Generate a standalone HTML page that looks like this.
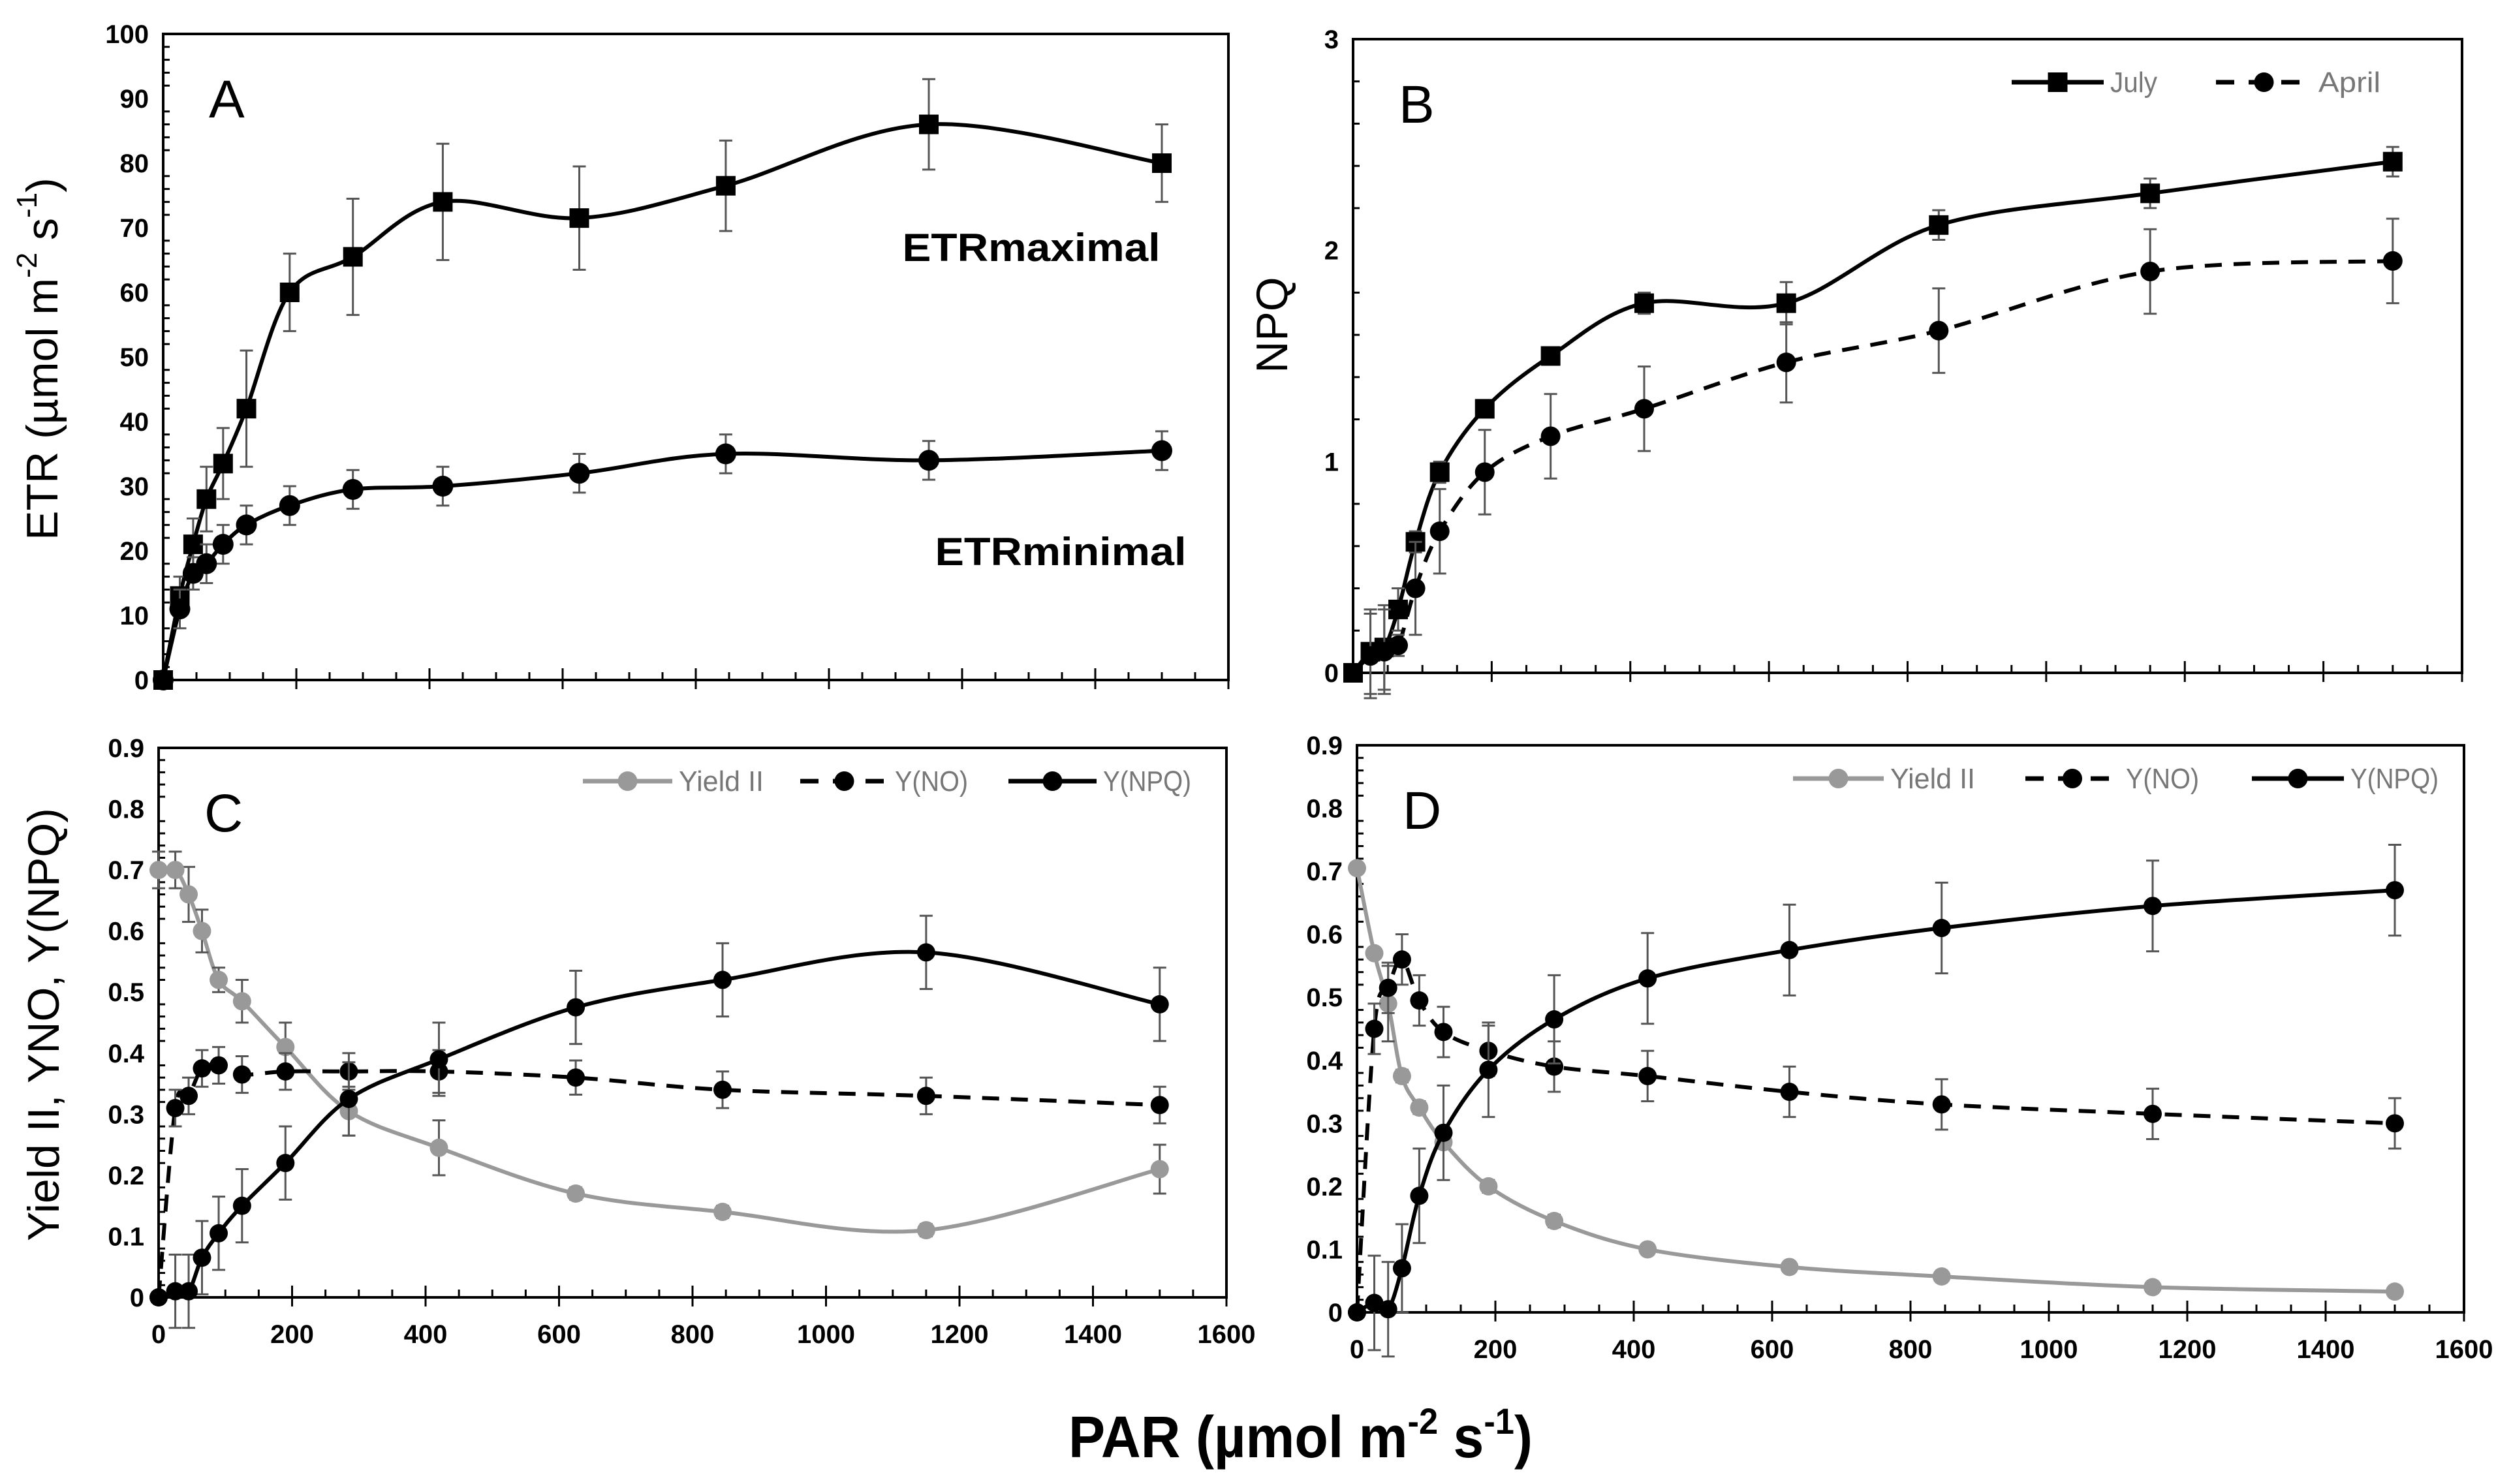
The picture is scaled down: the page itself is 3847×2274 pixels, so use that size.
<!DOCTYPE html>
<html><head><meta charset="utf-8"><style>
html,body{margin:0;padding:0;background:#fff}
svg{display:block}
text{font-family:"Liberation Sans",sans-serif}
</style></head><body>
<svg id="chart" width="3847" height="2274" viewBox="0 0 3847 2274" xmlns="http://www.w3.org/2000/svg">
  <text x="70" y="550" transform="rotate(-90 70 550)" text-anchor="middle" dominant-baseline="middle" font-family="Liberation Sans, sans-serif" font-size="68">ETR (µmol m<tspan font-size="44" dy="-26">-2</tspan><tspan dy="26"> s</tspan><tspan font-size="44" dy="-26">-1</tspan><tspan dy="26">)</tspan></text>
  <text x="1954" y="498" transform="rotate(-90 1954 498)" text-anchor="middle" dominant-baseline="middle" font-family="Liberation Sans, sans-serif" font-size="68">NPQ</text>
  <text x="72" y="1570" transform="rotate(-90 72 1570)" text-anchor="middle" dominant-baseline="middle" font-family="Liberation Sans, sans-serif" font-size="68">Yield II, YNO, Y(NPQ)</text>
  <text x="1580" y="400" text-anchor="middle" textLength="395" lengthAdjust="spacingAndGlyphs" font-family="Liberation Sans, sans-serif" font-weight="bold" font-size="60">ETRmaximal</text>
  <text x="1625" y="866" text-anchor="middle" textLength="385" lengthAdjust="spacingAndGlyphs" font-family="Liberation Sans, sans-serif" font-weight="bold" font-size="60">ETRminimal</text>
  <text x="1637" y="2233" textLength="711" lengthAdjust="spacingAndGlyphs" font-family="Liberation Sans, sans-serif" font-weight="bold" font-size="90">PAR (µmol m<tspan font-size="56" dy="-36">-2</tspan><tspan dy="36"> s</tspan><tspan font-size="56" dy="-36">-1</tspan><tspan dy="36">)</tspan></text>
</svg>
<script>
const par = [0,25,45,65,90,125,190,285,420,625,845,1150,1500];
const etrMax = [0,13,21,28,33.5,42,60,65.5,74,71.5,76.5,86,80];
const etrMaxErr = [0,3,4,5,5.5,9,6,9,9,8,7,7,6];
const etrMin = [0,11,16.5,18,21,24,27,29.5,30,32,35,34,35.5];
const etrMinErr = [0,3,2.5,3,3,3,3,3,3,3,3,3,3];
const npqJuly = [0,0.1,0.12,0.3,0.62,0.95,1.25,1.5,1.75,1.75,2.12,2.27,2.42];
const npqJulyErr = [0,0.2,0.2,0.1,0.05,0.05,0.03,0.03,0.05,0.1,0.07,0.07,0.07];
const npqApril = [0,0.08,0.1,0.13,0.4,0.67,0.95,1.12,1.25,1.47,1.62,1.9,1.95];
const npqAprilErr = [0,0.2,0.2,0.05,0.22,0.2,0.2,0.2,0.2,0.19,0.2,0.2,0.2];
const cYield = [0.70,0.70,0.66,0.60,0.52,0.485,0.41,0.305,0.245,0.17,0.14,0.11,0.21];
const cYieldErr = [0.03,0.03,0.045,0.035,0.02,0.035,0.04,0.04,0.045,0.01,0.01,0.01,0.04];
const cYno = [0,0.31,0.33,0.375,0.38,0.365,0.37,0.37,0.37,0.36,0.34,0.33,0.315];
const cYnoErr = [0,0.03,0.03,0.03,0.03,0.03,0.03,0.03,0.035,0.028,0.03,0.03,0.03];
const cYnpq = [0,0.01,0.01,0.065,0.105,0.15,0.22,0.325,0.39,0.475,0.52,0.565,0.48];
const cYnpqErr = [0,0.06,0.06,0.06,0.06,0.06,0.06,0.06,0.06,0.06,0.06,0.06,0.06];
const dYield = [0.705,0.57,0.49,0.375,0.325,0.27,0.2,0.145,0.1,0.072,0.057,0.04,0.033];
const dYieldErr = [0,0,0.06,0.01,0.01,0.01,0.01,0.01,0.008,0.008,0.008,0.008,0.008];
const dYno = [0,0.45,0.515,0.56,0.495,0.445,0.415,0.39,0.375,0.35,0.33,0.315,0.3];
const dYnoErr = [0,0.04,0.04,0.04,0.04,0.04,0.04,0.04,0.04,0.04,0.04,0.04,0.04];
const dYnpq = [0,0.015,0.005,0.07,0.185,0.285,0.385,0.465,0.53,0.575,0.61,0.645,0.67];
const dYnpqErr = [0,0.075,0.075,0.07,0.075,0.075,0.075,0.07,0.072,0.072,0.072,0.072,0.072];
const xTicks = [0,200,400,600,800,1000,1200,1400,1600];
const aTicks = [0,10,20,30,40,50,60,70,80,90,100];
const bTicks = [0,1,2,3];
const cdTicks = [0,0.1,0.2,0.3,0.4,0.5,0.6,0.7,0.8,0.9];

const NS='http://www.w3.org/2000/svg';
const svg=document.getElementById('chart');
function mk(tag,attrs,parent){const e=document.createElementNS(NS,tag);for(const k in attrs)e.setAttribute(k,attrs[k]);(parent||svg).appendChild(e);return e;}

function smoothPath(pts){
  let d='M'+pts[0][0]+','+pts[0][1];
  for(let i=0;i<pts.length-1;i++){
    const p0=pts[Math.max(0,i-1)],p1=pts[i],p2=pts[i+1],p3=pts[Math.min(pts.length-1,i+2)];
    const t=1/6;
    const c1=[p1[0]+(p2[0]-p0[0])*t,p1[1]+(p2[1]-p0[1])*t];
    const c2=[p2[0]-(p3[0]-p1[0])*t,p2[1]-(p3[1]-p1[1])*t];
    d+=' C'+c1[0]+','+c1[1]+' '+c2[0]+','+c2[1]+' '+p2[0]+','+p2[1];
  }
  return d;
}

function panel(cfg){
  const g=mk('g',{});
  
  
  const X=v=>cfg.x0+(v/1600)*(cfg.x1-cfg.x0);
  const Y=v=>cfg.y0-(v/cfg.ymax)*(cfg.y0-cfg.y1);
  const fr=mk('rect',{x:cfg.x0,y:cfg.y1,width:cfg.x1-cfg.x0,height:cfg.y0-cfg.y1,fill:'none',stroke:'#000','stroke-width':4},g);
  
  
  for(let v=50;v<=1600;v+=50){
    const major=v%200===0;
    mk('line',{x1:X(v),x2:X(v),y1:cfg.y0-(major?18:12),y2:cfg.y0+(major?14:0),stroke:'#000','stroke-width':3},g);
  }
  const nMinor=cfg.minor;
  for(let i=0;i<cfg.ticks.length-1;i++){
    const a=cfg.ticks[i],b=cfg.ticks[i+1];
    for(let k=1;k<nMinor;k++){const v=a+(b-a)*k/nMinor;mk('line',{x1:cfg.x0,x2:cfg.x0+10,y1:Y(v),y2:Y(v),stroke:'#000','stroke-width':3},g);}
  }
  cfg.ticks.forEach(v=>{
    const t=mk('text',{x:cfg.x0-22,y:Y(v)+14,'text-anchor':'end','font-size':40,'font-weight':'bold'},g);
    t.textContent=v;
    
    
  });
  if(cfg.xlabels){
    xTicks.forEach(v=>{
      const t=mk('text',{x:X(v),y:cfg.y0+70,'text-anchor':'middle','font-size':40,'font-weight':'bold'},g);
      t.textContent=v;
      
      
    });
  }
  const L=mk('text',{x:cfg.x0+70,y:cfg.y1+128,'font-size':82},g);
  L.textContent=cfg.letter;
  
  
  cfg.series.forEach(s=>{
    const sg=mk('g',{},g);
    
    
    const pts=par.map((p,i)=>[X(p),Y(s.vals[i])]);
    const ln=mk('path',{d:smoothPath(pts),fill:'none',stroke:s.color,'stroke-width':6},sg);
    if(s.dash)ln.setAttribute('stroke-dasharray','26,18');
    
    
    par.forEach((p,i)=>{
      const e=s.err[i];
      if(e>0){
        const x=X(p),ya=Y(s.vals[i]+e),yb=Y(s.vals[i]-e);
        mk('line',{x1:x,x2:x,y1:ya,y2:yb,stroke:'#555','stroke-width':3},sg);
        mk('line',{x1:x-10,x2:x+10,y1:ya,y2:ya,stroke:'#555','stroke-width':3},sg);
        mk('line',{x1:x-10,x2:x+10,y1:yb,y2:yb,stroke:'#555','stroke-width':3},sg);
      }
    });
    par.forEach((p,i)=>{
      let m;
      if(s.marker==='sq') m=mk('rect',{x:X(p)-15,y:Y(s.vals[i])-15,width:30,height:30,fill:s.color},sg);
      else m=mk('circle',{cx:X(p),cy:Y(s.vals[i]),r:s.r||15,fill:s.color},sg);
      
      
    });
  });
  (cfg.legend||[]).forEach(l=>{
    const lg=mk('g',{},g);
    
    
    const ln=mk('line',{x1:l.x1,x2:l.x2,y1:cfg.legY,y2:cfg.legY,stroke:l.color,'stroke-width':7},lg);
    if(l.dash)ln.setAttribute('stroke-dasharray','28,22');
    const mx=(l.x1+l.x2)/2;
    if(l.marker==='sq')mk('rect',{x:mx-15,y:cfg.legY-15,width:30,height:30,fill:l.color},lg);
    else mk('circle',{cx:mx,cy:cfg.legY,r:15,fill:l.color},lg);
    const t=mk('text',{x:l.x2+10,y:cfg.legY+15,'font-size':44,fill:'#777',textLength:l.tw,lengthAdjust:'spacingAndGlyphs'},lg);
    t.textContent=l.label;
  });
}

panel({name:'panel-a',letter:'A',x0:250,x1:1882,y0:1042,y1:52,ymax:100,ticks:aTicks,minor:5,xlabels:false,
  series:[{name:'etr-maximal-series',vals:etrMax,err:etrMaxErr,color:'#000',marker:'sq'},
          {name:'etr-minimal-series',vals:etrMin,err:etrMinErr,color:'#000',marker:'c',r:16}]});
panel({name:'panel-b',letter:'B',x0:2073,x1:3772,y0:1031,y1:60,ymax:3,ticks:bTicks,minor:5,xlabels:false,legY:126,
  series:[{name:'npq-july-series',vals:npqJuly,err:npqJulyErr,color:'#000',marker:'sq'},
          {name:'npq-april-series',vals:npqApril,err:npqAprilErr,color:'#000',marker:'c',dash:true}],
  legend:[{x1:3082,x2:3223,color:'#000',marker:'sq',label:'July',tw:72},
          {x1:3395,x2:3542,color:'#000',marker:'c',dash:true,label:'April',tw:95}]});
panel({name:'panel-c',letter:'C',x0:243,x1:1879,y0:1988,y1:1146,ymax:0.9,ticks:cdTicks,minor:5,xlabels:true,legY:1197,
  series:[{name:'c-yield-ii-series',vals:cYield,err:cYieldErr,color:'#999',marker:'c',r:14},
          {name:'c-y-no-series',vals:cYno,err:cYnoErr,color:'#000',marker:'c',dash:true,r:14},
          {name:'c-y-npq-series',vals:cYnpq,err:cYnpqErr,color:'#000',marker:'c',r:14}],
  legend:[{x1:893,x2:1030,color:'#999',marker:'c',label:'Yield II',tw:130},
          {x1:1226,x2:1361,color:'#000',marker:'c',dash:true,label:'Y(NO)',tw:112},
          {x1:1545,x2:1680,color:'#000',marker:'c',label:'Y(NPQ)',tw:135}]});
panel({name:'panel-d',letter:'D',x0:2079,x1:3775,y0:2011,y1:1142,ymax:0.9,ticks:cdTicks,minor:5,xlabels:true,legY:1193,
  series:[{name:'d-yield-ii-series',vals:dYield,err:dYieldErr,color:'#999',marker:'c',r:14},
          {name:'d-y-no-series',vals:dYno,err:dYnoErr,color:'#000',marker:'c',dash:true,r:14},
          {name:'d-y-npq-series',vals:dYnpq,err:dYnpqErr,color:'#000',marker:'c',r:14}],
  legend:[{x1:2747,x2:2886,color:'#999',marker:'c',label:'Yield II',tw:130},
          {x1:3103,x2:3247,color:'#000',marker:'c',dash:true,label:'Y(NO)',tw:112},
          {x1:3450,x2:3591,color:'#000',marker:'c',label:'Y(NPQ)',tw:135}]});
</script>
</body></html>
